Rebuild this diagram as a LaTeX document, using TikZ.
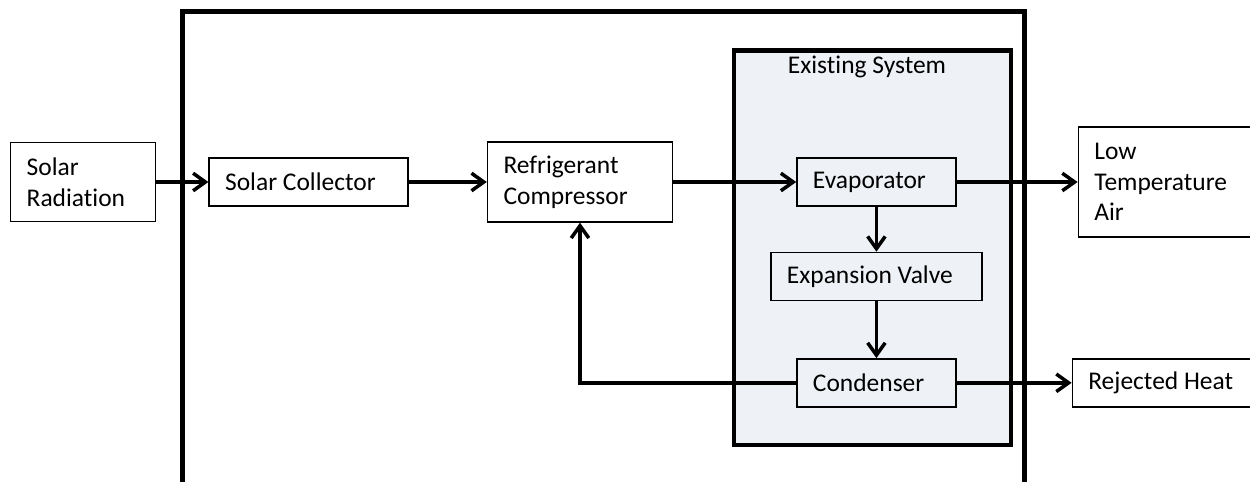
\documentclass[tikz,border=0pt]{standalone}
\usepackage{fontspec}
\setmainfont{Carlito}[Ligatures=NoCommon]
\usepackage{tikz}
\usetikzlibrary{arrows.meta,positioning}
\definecolor{frameblack}{HTML}{000000}
\definecolor{paleblue}{HTML}{EEF2F7}

\begin{document}
\begin{tikzpicture}[
  font=\fontsize{14.5}{17.5}\selectfont,
  block/.style={
    draw, line width=0.8pt, align=flush left, inner xsep=0.32cm, inner ysep=0pt,
    minimum height=0.96cm
  },
  frame/.style={line width=2.8pt, color=frameblack},
  arrow/.style={-{Straight Barb[length=7pt,width=10pt]}, line width=2pt}
]
  \useasboundingbox (0,0) rectangle (25,-9.64);
  % outer system boundary
  \draw[frame] (3.65,-9.64) -- (3.65,-0.23) -- (20.49,-0.23) -- (20.49,-9.64);
  % existing system
  \draw[frame, fill=paleblue] (14.68,-1.01) rectangle (20.22,-8.9);
  \node (exlabel) at (17.34,-1.34) {Existing System};

  \node[block, text width=2.26cm, minimum height=1.58cm, anchor=west] (rad) at (0.2,-3.64) {Solar\\Radiation};
  \node[block, text width=3.34cm, right=1.04cm of rad] (coll) {Solar Collector};
  \node[block, text width=3.06cm, minimum height=1.6cm, right=1.56cm of coll] (comp) {Refrigerant\\Compressor};
  \node[block, text width=2.54cm, right=2.46cm of comp] (evap) {Evaporator};
  \node[block, text width=2.9cm, minimum height=2.2cm, right=2.42cm of evap] (lowair) {Low\\Temperature\\Air};
  \node[block, text width=3.58cm, below=0.9cm of evap] (valve) {Expansion Valve};
  \node[block, text width=2.54cm, below=1.14cm of valve] (cond) {Condenser};
  \node[block, text width=2.98cm, right=2.3cm of cond] (rej) {Rejected Heat};

  \draw[arrow] (rad) -- (coll);
  \draw[arrow] (coll) -- (comp);
  \draw[arrow] (comp) -- (evap);
  \draw[arrow] (evap) -- (lowair);
  \draw[arrow] (evap) -- (valve);
  \draw[arrow] (valve) -- (cond);
  \draw[arrow] (cond) -- (rej);
  \draw[arrow] (cond.west) -| (comp.south);
\end{tikzpicture}
\end{document}
